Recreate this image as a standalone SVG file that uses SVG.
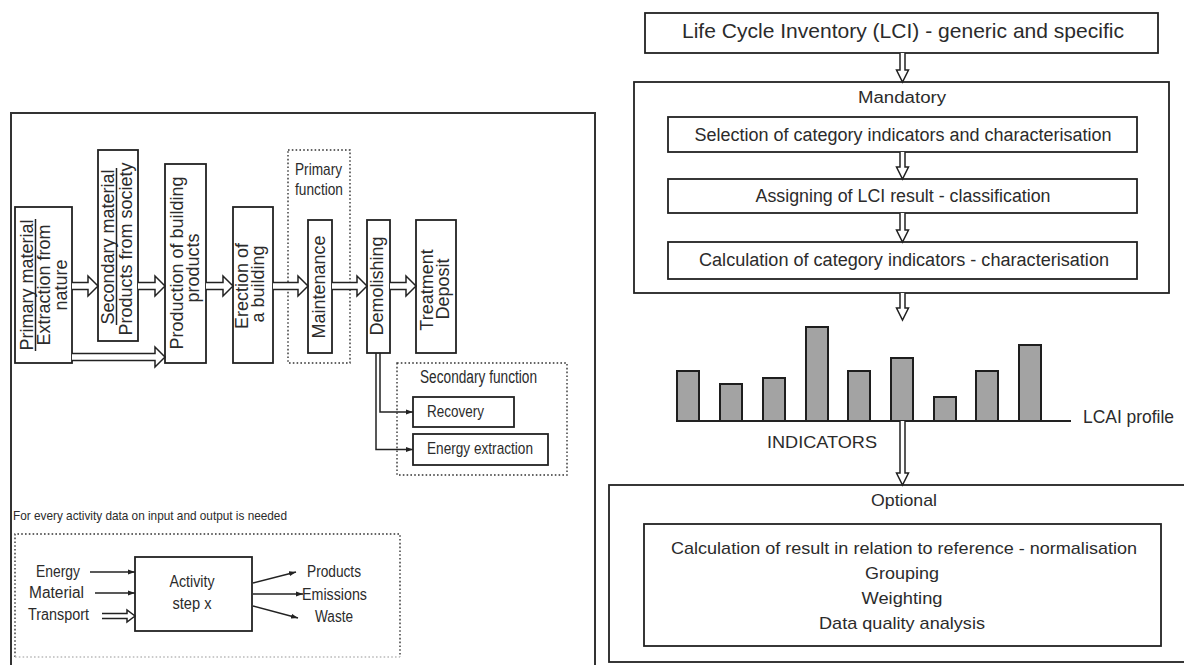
<svg xmlns="http://www.w3.org/2000/svg" width="1184" height="665" viewBox="0 0 1184 665">
  <style>
    .t { font-family: "Liberation Sans", Arial, sans-serif; fill: #2b2b2b; }
    .box { fill: #fff; stroke: #222; stroke-width: 1.8; }
    .frame { fill: none; stroke: #333; stroke-width: 2; }
    .dot { fill: none; stroke: #333; stroke-width: 1.4; stroke-dasharray: 1.6 2.2; }
    .arr { fill: #fff; stroke: #222; stroke-width: 1.5; stroke-linejoin: miter; }
    .ln { fill: none; stroke: #222; stroke-width: 1.5; }
    .bar { fill: #a3a3a3; stroke: #1e1e1e; stroke-width: 2; }
  </style>
  <defs>
    <marker id="tip" markerUnits="userSpaceOnUse" markerWidth="7" markerHeight="6" refX="7" refY="3" orient="auto">
      <path d="M0,0.5 L7,3 L0,5.5 z" fill="#222"/>
    </marker>
  </defs>
  <rect width="1184" height="665" fill="#fff"/>

  <!-- ===== Left panel: life cycle of a building ===== -->
  <rect id="left-frame" class="frame" x="11" y="113" width="584" height="570"/>

  <g id="primary-material">
    <rect class="box" x="15" y="207" width="57" height="156"/>
    <text class="t" font-size="18" text-anchor="middle" transform="rotate(-90 33 285)" x="33" y="285">Primary material</text>
    <line class="ln" x1="35.5" y1="219" x2="35.5" y2="351"/>
    <text class="t" font-size="18" text-anchor="middle" transform="rotate(-90 50 285)" x="50" y="285">Extraction from</text>
    <text class="t" font-size="18" text-anchor="middle" transform="rotate(-90 67 285)" x="67" y="285">nature</text>
  </g>

  <g id="secondary-material">
    <rect class="box" x="98" y="150" width="40" height="191"/>
    <text class="t" font-size="18" text-anchor="middle" transform="rotate(-90 114 247)" x="114" y="247">Secondary material</text>
    <line class="ln" x1="116.5" y1="168" x2="116.5" y2="325"/>
    <text class="t" font-size="18" text-anchor="middle" transform="rotate(-90 132 249)" x="132" y="249">Products from society</text>
  </g>

  <g id="production">
    <rect class="box" x="165" y="164" width="41" height="199"/>
    <text class="t" font-size="18" text-anchor="middle" transform="rotate(-90 183 263)" x="183" y="263">Production of building</text>
    <text class="t" font-size="18" text-anchor="middle" transform="rotate(-90 199 268)" x="199" y="268">products</text>
  </g>

  <g id="erection">
    <rect class="box" x="233" y="207" width="40" height="156"/>
    <text class="t" font-size="18" text-anchor="middle" transform="rotate(-90 248 286)" x="248" y="286">Erection of</text>
    <text class="t" font-size="18" text-anchor="middle" transform="rotate(-90 264 284)" x="264" y="284">a building</text>
  </g>

  <g id="primary-function">
    <rect class="dot" x="288" y="150" width="62" height="213"/>
    <text class="t" font-size="17" x="295" y="175" textLength="47" lengthAdjust="spacingAndGlyphs">Primary</text>
    <text class="t" font-size="17" x="295" y="195" textLength="48" lengthAdjust="spacingAndGlyphs">function</text>
  </g>

  <g id="maintenance">
    <rect class="box" x="308" y="220" width="24" height="133"/>
    <text class="t" font-size="18" text-anchor="middle" transform="rotate(-90 325 287)" x="325" y="287">Maintenance</text>
  </g>

  <g id="demolishing">
    <rect class="box" x="367" y="220" width="23" height="133"/>
    <text class="t" font-size="18" text-anchor="middle" transform="rotate(-90 383 286)" x="383" y="286">Demolishing</text>
  </g>

  <g id="treatment">
    <rect class="box" x="416" y="220" width="40" height="133"/>
    <text class="t" font-size="18" text-anchor="middle" transform="rotate(-90 433 290)" x="433" y="290">Treatment</text>
    <text class="t" font-size="18" text-anchor="middle" transform="rotate(-90 449 289)" x="449" y="289">Deposit</text>
  </g>

  <g id="secondary-function">
    <rect class="dot" x="397" y="363" width="170" height="112"/>
    <text class="t" font-size="18" x="420" y="383" textLength="117" lengthAdjust="spacingAndGlyphs">Secondary function</text>
  </g>

  <g id="recovery">
    <rect class="box" x="413" y="397" width="101" height="30"/>
    <text class="t" font-size="17" x="427" y="417" textLength="57" lengthAdjust="spacingAndGlyphs">Recovery</text>
  </g>

  <g id="energy-extraction">
    <rect class="box" x="413" y="434" width="135" height="31"/>
    <text class="t" font-size="17" x="427" y="454" textLength="106" lengthAdjust="spacingAndGlyphs">Energy extraction</text>
  </g>

  <!-- activity legend -->
  <g id="activity-note">
    <text class="t" font-size="13" x="13" y="520" textLength="274" lengthAdjust="spacingAndGlyphs">For every activity data on input and output is needed</text>
    <path class="dot" d="M15,657 V534 H400 V657"/>
    <line x1="15" y1="657" x2="400" y2="657" stroke="#bbb" stroke-width="1.4" stroke-dasharray="1.6 2.2"/>
  </g>

  <g id="activity-step">
    <rect class="box" x="135" y="557" width="117" height="74"/>
    <text class="t" font-size="16" x="192" y="587" text-anchor="middle" textLength="45" lengthAdjust="spacingAndGlyphs">Activity</text>
    <text class="t" font-size="16" x="192" y="609" text-anchor="middle" textLength="39" lengthAdjust="spacingAndGlyphs">step x</text>
  </g>

  <g id="activity-labels">
    <text class="t" font-size="16" x="36" y="577" textLength="44" lengthAdjust="spacingAndGlyphs">Energy</text>
    <text class="t" font-size="16" x="29" y="598" textLength="55" lengthAdjust="spacingAndGlyphs">Material</text>
    <text class="t" font-size="16" x="28" y="620" textLength="61" lengthAdjust="spacingAndGlyphs">Transport</text>
    <text class="t" font-size="16" x="307" y="577" textLength="54" lengthAdjust="spacingAndGlyphs">Products</text>
    <text class="t" font-size="16" x="302" y="600" textLength="65" lengthAdjust="spacingAndGlyphs">Emissions</text>
    <text class="t" font-size="16" x="315" y="622" textLength="38" lengthAdjust="spacingAndGlyphs">Waste</text>
  </g>

  <!-- ===== Right panel: life cycle impact assessment ===== -->
  <g id="lci">
    <rect class="box" x="645" y="13" width="513" height="40"/>
    <text class="t" font-size="21" x="903" y="38" text-anchor="middle" textLength="442" lengthAdjust="spacingAndGlyphs">Life Cycle Inventory (LCI) - generic and specific</text>
  </g>

  <g id="mandatory">
    <rect class="box" x="634" y="82" width="535" height="211"/>
    <text class="t" font-size="16" x="902" y="103" text-anchor="middle" textLength="88" lengthAdjust="spacingAndGlyphs">Mandatory</text>
  </g>

  <g id="selection">
    <rect class="box" x="668" y="117" width="469" height="35"/>
    <text class="t" font-size="18" x="903" y="141" text-anchor="middle" textLength="417" lengthAdjust="spacingAndGlyphs">Selection of category indicators and characterisation</text>
  </g>

  <g id="assigning">
    <rect class="box" x="668" y="179" width="469" height="34"/>
    <text class="t" font-size="18" x="903" y="202" text-anchor="middle" textLength="295" lengthAdjust="spacingAndGlyphs">Assigning of LCI result - classification</text>
  </g>

  <g id="calculation">
    <rect class="box" x="668" y="242" width="469" height="37"/>
    <text class="t" font-size="18" x="904" y="266" text-anchor="middle" textLength="410" lengthAdjust="spacingAndGlyphs">Calculation of category indicators - characterisation</text>
  </g>

  <g id="lcai-profile">
    <rect class="bar" x="677" y="371" width="22" height="50"/>
    <rect class="bar" x="720" y="384" width="22" height="37"/>
    <rect class="bar" x="763" y="378" width="22" height="43"/>
    <rect class="bar" x="806" y="327" width="22" height="94"/>
    <rect class="bar" x="848" y="371" width="22" height="50"/>
    <rect class="bar" x="891" y="358" width="22" height="63"/>
    <rect class="bar" x="934" y="397" width="22" height="24"/>
    <rect class="bar" x="976" y="371" width="22" height="50"/>
    <rect class="bar" x="1019" y="345" width="22" height="76"/>
    <line x1="677" y1="421" x2="1071" y2="421" stroke="#222" stroke-width="1.8"/>
    <text class="t" font-size="19" x="1083" y="423" textLength="91" lengthAdjust="spacingAndGlyphs">LCAI profile</text>
    <text class="t" font-size="17" x="767" y="448" textLength="110" lengthAdjust="spacingAndGlyphs">INDICATORS</text>
  </g>

  <g id="optional">
    <rect class="box" x="609" y="485" width="590" height="177"/>
    <text class="t" font-size="17" x="904" y="506" text-anchor="middle" textLength="66" lengthAdjust="spacingAndGlyphs">Optional</text>
  </g>

  <g id="optional-steps">
    <rect class="box" x="644" y="524" width="517" height="122"/>
    <text class="t" font-size="17" x="904" y="554" text-anchor="middle" textLength="466" lengthAdjust="spacingAndGlyphs">Calculation of result in relation to reference - normalisation</text>
    <text class="t" font-size="17" x="902" y="579" text-anchor="middle" textLength="74" lengthAdjust="spacingAndGlyphs">Grouping</text>
    <text class="t" font-size="17" x="902" y="604" text-anchor="middle" textLength="81" lengthAdjust="spacingAndGlyphs">Weighting</text>
    <text class="t" font-size="17" x="902" y="629" text-anchor="middle" textLength="166" lengthAdjust="spacingAndGlyphs">Data quality analysis</text>
  </g>

  <!-- ===== Connectors ===== -->
  <g id="connectors">
    <!-- building life cycle flow -->
    <path class="arr" d="M72 282.5 H88 V276 L98 286 L88 296 V289.5 H72"/>
    <path class="arr" d="M138 282.5 H155 V276 L165 286 L155 296 V289.5 H138"/>
    <path class="arr" d="M206 282.5 H223 V276 L233 286 L223 296 V289.5 H206"/>
    <path class="arr" d="M273 282.5 H298 V276 L308 286 L298 296 V289.5 H273"/>
    <path class="arr" d="M332 282.5 H357 V276 L367 286 L357 296 V289.5 H332"/>
    <path class="arr" d="M390 282.5 H406 V276 L416 286 L406 296 V289.5 H390"/>
    <path class="arr" d="M72 353.5 H155 V347 L165 357 L155 367 V360.5 H72"/>
    <!-- demolishing to secondary functions -->
    <path class="ln" d="M380 353 V412 H413" marker-end="url(#tip)"/>
    <path class="ln" d="M376 353 V449.5 H413" marker-end="url(#tip)"/>
    <!-- activity inputs and outputs -->
    <line class="ln" x1="90" y1="572" x2="135" y2="572" marker-end="url(#tip)"/>
    <line class="ln" x1="95" y1="593" x2="135" y2="593" marker-end="url(#tip)"/>
    <path class="arr" d="M102 613.5 H127 V610 L135 616 L127 622 V618.5 H102"/>
    <line class="ln" x1="253" y1="583" x2="296" y2="572" marker-end="url(#tip)"/>
    <line class="ln" x1="253" y1="594" x2="303" y2="594" marker-end="url(#tip)"/>
    <line class="ln" x1="253" y1="606" x2="298" y2="618" marker-end="url(#tip)"/>
    <!-- impact assessment flow -->
    <path class="arr" d="M900 53 V70 H896.5 L902.5 82 L908.5 70 H905 V53"/>
    <path class="arr" d="M900 152 V167 H896.5 L902.5 179 L908.5 167 H905 V152"/>
    <path class="arr" d="M900 213 V230 H896.5 L902.5 242 L908.5 230 H905 V213"/>
    <path class="arr" d="M900 293 V308 H896.5 L902.5 320 L908.5 308 H905 V293"/>
    <path class="arr" d="M900 421 V473 H896.5 L902.5 485 L908.5 473 H905 V421"/>
  </g>
</svg>
